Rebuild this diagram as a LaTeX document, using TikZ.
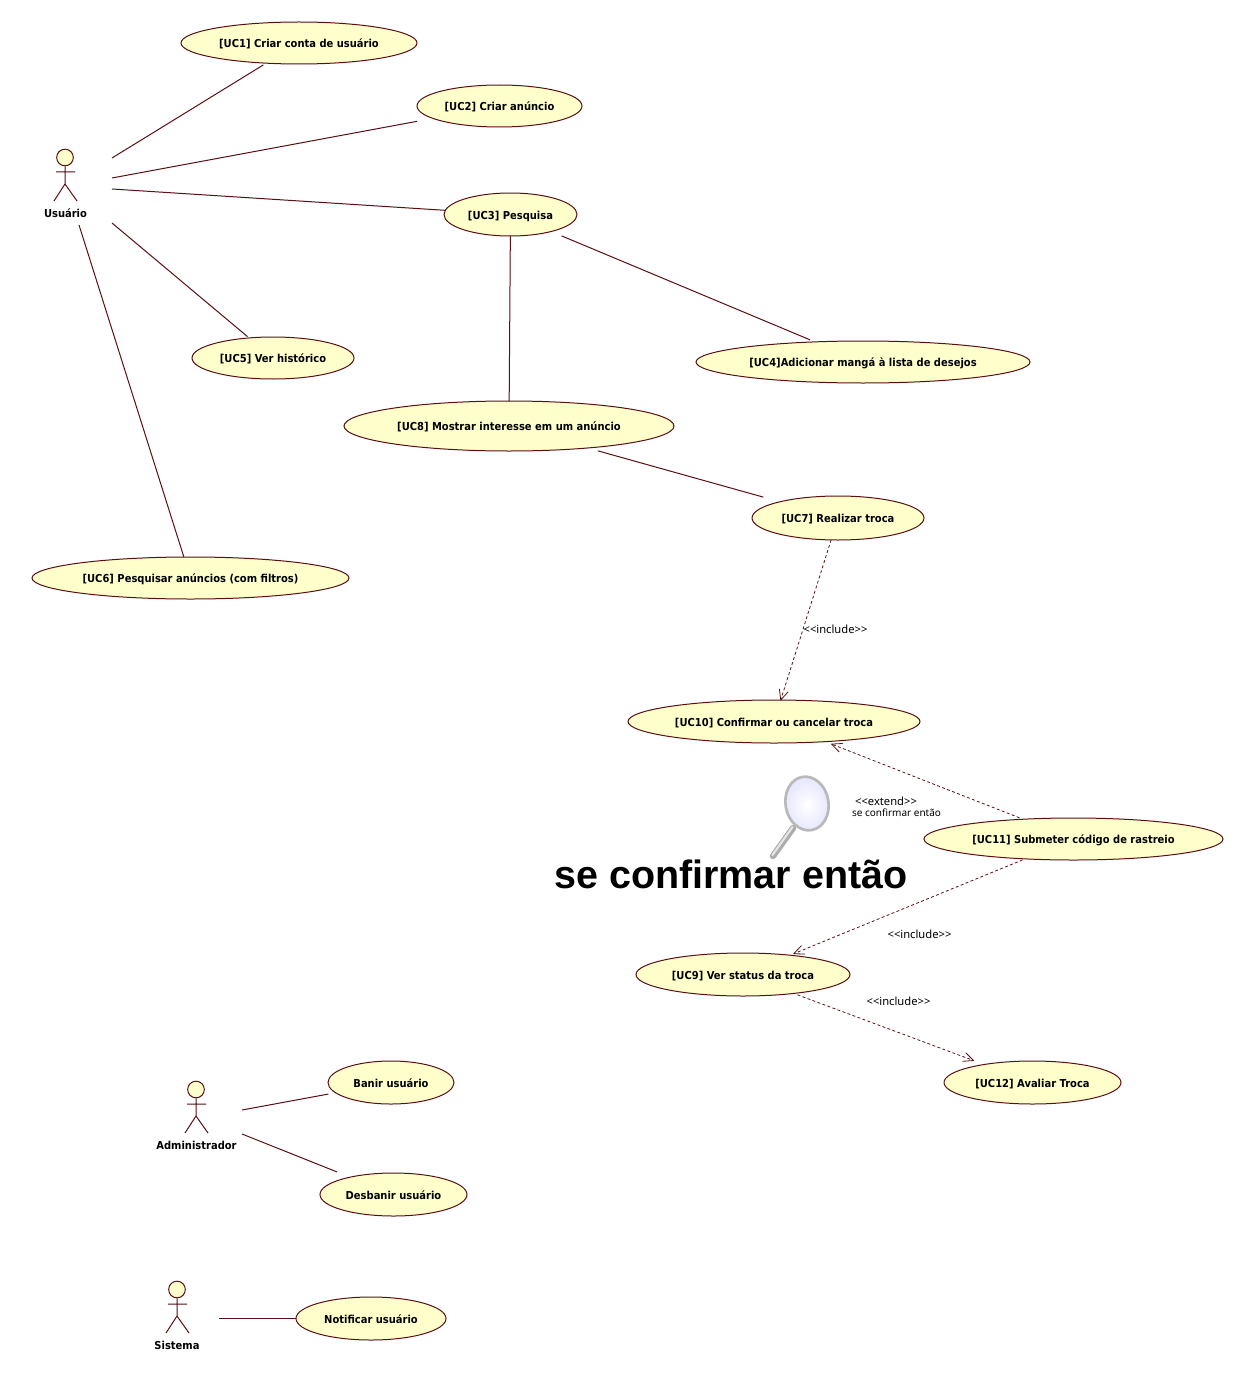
\documentclass[tikz,border=0pt]{standalone}
\usepackage{fontspec}
\setmainfont{Noto Sans}
\newfontfamily\bigfont{Liberation Sans}
\newfontfamily\ucfont[FakeStretch=0.91]{DejaVu Sans}
\usetikzlibrary{arrows.meta,shapes.geometric}
\definecolor{ucfill}{HTML}{FFFFCC}
\definecolor{ucline}{HTML}{5A0F14}
\pgfdeclarearrow{
  name=OpenVee,
  setup code={\pgfarrowssettipend{0pt}\pgfarrowssetlineend{-0.3pt}\pgfarrowssetvisualbackend{-7.5pt}\pgfarrowssetbackend{-7.5pt}\pgfarrowshullpoint{-7.5pt}{3.4pt}\pgfarrowshullpoint{-7.5pt}{-3.4pt}\pgfarrowsupperhullpoint{0pt}{0pt}},
  drawing code={\pgfsetdash{}{0pt}\pgfsetroundjoin\pgfsetroundcap
    \pgfpathmoveto{\pgfqpoint{-7.5pt}{3.4pt}}\pgfpathlineto{\pgfqpoint{0pt}{0pt}}\pgfpathlineto{\pgfqpoint{-7.5pt}{-3.4pt}}\pgfusepathqstroke},
}
\tikzset{
  es/.style 2 args={minimum width=#1*0.75pt,minimum height=#2*0.75pt},
  usecase/.style={ellipse,draw=ucline,fill=ucfill,line width=0.75pt,inner sep=0pt,outer sep=0pt,text height=8pt,text depth=1pt,font=\ucfont\fontsize{8.2}{10}\selectfont\bfseries,text=black},
  actorname/.style={font=\ucfont\fontsize{8.2}{10}\selectfont\bfseries,text=black,inner sep=0pt},
  assoc/.style={draw=ucline,line width=0.75pt},
  dep/.style={draw=ucline,line width=0.6pt,dash pattern=on 2.2pt off 1.8pt,-OpenVee},
  note/.style={font=\fontsize{8.4}{10}\selectfont,text=black,inner sep=0pt},
  notesmall/.style={font=\fontsize{7.5}{10}\selectfont,text=black,inner sep=0pt},
  actorbody/.style={draw=ucline,line width=0.75pt},
  actorhead/.style={circle,draw=ucline,fill=ucfill,line width=0.75pt,minimum size=12.5pt,inner sep=0pt},
}
\begin{document}
\begin{tikzpicture}[x=0.75pt,y=-0.75pt]
\useasboundingbox[fill=white] (0,0) rectangle (1244,1377);
% use cases
\node[usecase,es={236}{42}] (uc1) at (299,43) {[UC1] Criar conta de usuário};
\node[usecase,es={165}{42}] (uc2) at (499.5,106) {[UC2] Criar anúncio};
\node[usecase,es={133}{43}] (uc3) at (510.5,214.5) {[UC3] Pesquisa};
\node[usecase,es={334}{42}] (uc4) at (863,362) {[UC4]Adicionar mangá à lista de desejos};
\node[usecase,es={162}{42}] (uc5) at (273,358) {[UC5] Ver histórico};
\node[usecase,es={317}{42}] (uc6) at (190.5,578) {[UC6] Pesquisar anúncios (com filtros)};
\node[usecase,es={172}{44}] (uc7) at (838,518) {[UC7] Realizar troca};
\node[usecase,es={330}{50}] (uc8) at (509,426) {[UC8] Mostrar interesse em um anúncio};
\node[usecase,es={292}{43}] (uc10) at (774,721.5) {[UC10] Confirmar ou cancelar troca};
\node[usecase,es={299}{42}] (uc11) at (1073.5,839) {[UC11] Submeter código de rastreio};
\node[usecase,es={214}{43}] (uc9) at (743,974.5) {[UC9] Ver status da troca};
\node[usecase,es={177}{43}] (uc12) at (1032.5,1082.5) {[UC12] Avaliar Troca};
\node[usecase,es={126}{43}] (banir) at (391,1082.5) {Banir usuário};
\node[usecase,es={147}{43}] (desbanir) at (393.5,1194.5) {Desbanir usuário};
\node[usecase,es={150}{43}] (notificar) at (371,1318.5) {Notificar usuário};
% actors
\node[actorhead] (h1) at (65,157.5) {};
\draw[actorbody] (h1.south) -- (65,184) (56,172) -- (75,172) (54,201) -- (65,184) -- (77,201);
\node[actorname] (usuario) at (65.5,213) {Usuário};
\node[actorhead] (h2) at (196,1089.5) {};
\draw[actorbody] (h2.south) -- (196,1116) (187,1104) -- (206,1104) (185,1133) -- (196,1116) -- (208,1133);
\node[actorname] (admin) at (196.5,1145) {Administrador};
\node[actorhead] (h3) at (177,1289.5) {};
\draw[actorbody] (h3.south) -- (177,1316) (168,1304) -- (187,1304) (166,1333) -- (177,1316) -- (189,1333);
\node[actorname] (sistema) at (177,1345) {Sistema};
% association free ends
\coordinate (a1) at (112,158);
\coordinate (a2) at (112,178);
\coordinate (a3) at (112,189);
\coordinate (a5) at (112,223);
\coordinate (a6) at (79,225);
\coordinate (b1) at (242,1110);
\coordinate (b2) at (242,1134);
\coordinate (c1) at (219,1318.5);
\draw[assoc,shorten >=2.5pt] (a1) -- (uc1);
\draw[assoc,shorten >=12pt] (a2) -- (uc2);
\draw[assoc] (a3) -- (uc3);
\draw[assoc,shorten >=1.5pt] (a5) -- (uc5);
\draw[assoc] (a6) -- (uc6);
\draw[assoc,shorten <=8.5pt,shorten >=4pt] (uc3) -- (uc4);
\draw[assoc] (uc3) -- (uc8);
\draw[assoc,shorten <=8pt,shorten >=13pt] (uc8) -- (uc7);
\draw[assoc,shorten >=5.5pt] (b1) -- (banir);
\draw[assoc,shorten >=10.5pt] (b2) -- (desbanir);
\draw[assoc] (c1) -- (notificar);
% dependencies
\draw[dep] (uc7) -- (uc10);
\draw[dep,shorten <=3pt,shorten >=5pt] (uc11) -- (uc10);
\draw[dep,shorten <=2pt,shorten >=3pt] (uc11) -- (uc9);
\draw[dep,shorten <=3pt,shorten >=8.5pt] (uc9) -- (uc12);
\node[note] (l1) at (835.5,629) {{<}{<}include{>}{>}};
\node[note] (l2) at (886,801) {{<}{<}extend{>}{>}};
\node[notesmall] (l3) at (896.5,813) {se confirmar então};
\node[note] (l4) at (919.5,934) {{<}{<}include{>}{>}};
\node[note] (l5) at (898.5,1001) {{<}{<}include{>}{>}};
% magnifier
\draw[line width=4.8pt,line cap=round,color=gray!65] (773,856) -- (793,828);
\draw[line width=1.6pt,line cap=round,color=white!90!black] (772.5,855) -- (792.5,827);
\shade[rotate around={10:(807,803.5)},inner color=white,outer color=blue!10!white,draw=gray!55,line width=2pt] (807,803.5) ellipse [x radius=21.5,y radius=27];
\node[font=\bigfont\fontsize{29.6}{34}\selectfont\bfseries,text=black,inner sep=0pt] (big) at (731,874) {se confirmar então};
\end{tikzpicture}
\end{document}
